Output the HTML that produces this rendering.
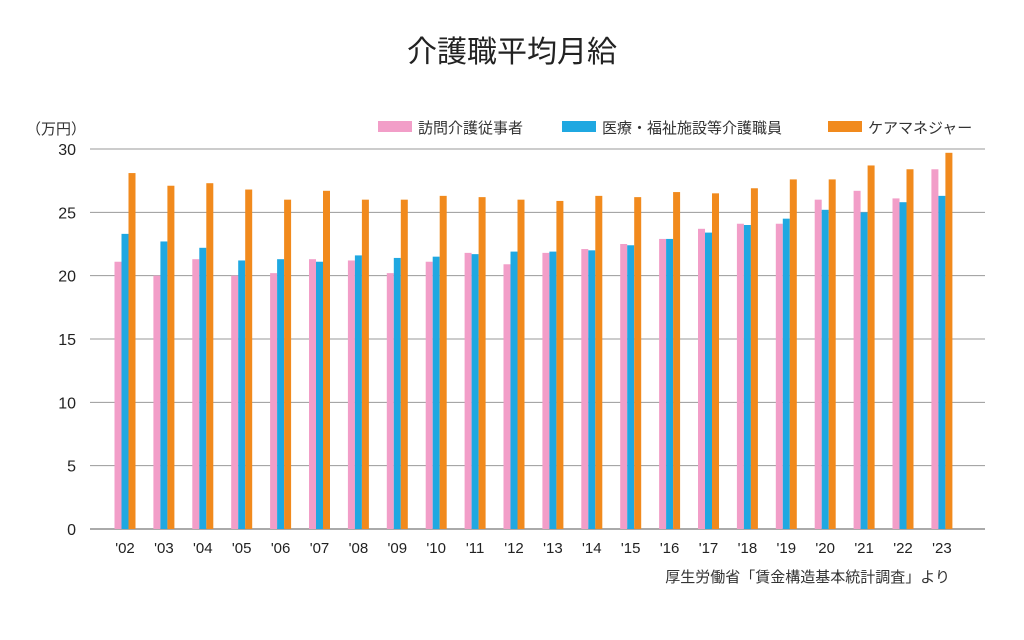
<!DOCTYPE html>
<html><head><meta charset="utf-8"><style>
body{margin:0;background:#fff;}
svg{display:block;font-family:"Liberation Sans","Noto Sans CJK JP",sans-serif;}
</style></head><body>
<svg id="chart" width="1024" height="640">
<text x="512" y="62" text-anchor="middle" font-size="30" fill="#222">介護職平均月給</text>
<text x="26" y="134" font-size="15" fill="#333">（万円）</text>
<g>
<rect x="378" y="121" width="34" height="11" fill="#f29ec8"/>
<text x="418" y="133" font-size="15" fill="#333">訪問介護従事者</text>
<rect x="562" y="121" width="34" height="11" fill="#1fa8e1"/>
<text x="602" y="133" font-size="15" fill="#333">医療・福祉施設等介護職員</text>
<rect x="828" y="121" width="34" height="11" fill="#f18a1d"/>
<text x="868" y="133" font-size="15" fill="#333">ケアマネジャー</text>
</g>
<g id="grid"></g><g id="bars"></g><g id="labels"></g>
<text x="950" y="582" text-anchor="end" font-size="15" fill="#333">厚生労働省「賃金構造基本統計調査」より</text>
</svg>
<script>
const categories=["'02","'03","'04","'05","'06","'07","'08","'09","'10","'11","'12","'13","'14","'15","'16","'17","'18","'19","'20","'21","'22","'23"];
const homeCare=[21.1,20.0,21.3,20.0,20.2,21.3,21.2,20.2,21.1,21.8,20.9,21.8,22.1,22.5,22.9,23.7,24.1,24.1,26.0,26.7,26.1,28.4];
const facility=[23.3,22.7,22.2,21.2,21.3,21.1,21.6,21.4,21.5,21.7,21.9,21.9,22.0,22.4,22.9,23.4,24.0,24.5,25.2,25.0,25.8,26.3];
const careManager=[28.1,27.1,27.3,26.8,26.0,26.7,26.0,26.0,26.3,26.2,26.0,25.9,26.3,26.2,26.6,26.5,26.9,27.6,27.6,28.7,28.4,29.7];
const yTicks=[0,5,10,15,20,25,30];
const NS="http://www.w3.org/2000/svg";
const y0=529,yTop=149,yMax=30,x0=90,x1=985;
const ys=v=>y0-(y0-yTop)*v/yMax;
const xs=i=>125+i*38.9;
const grid=document.getElementById('grid'),bars=document.getElementById('bars'),labels=document.getElementById('labels');
function mk(tag,attrs,parent){const e=document.createElementNS(NS,tag);for(const k in attrs)e.setAttribute(k,attrs[k]);parent.appendChild(e);return e;}
yTicks.forEach(t=>{
 const l=mk('line',{x1:x0,x2:x1,y1:ys(t),y2:ys(t),stroke:t===0?'#555':'#999','stroke-width':1},grid);
 
 
 const tx=mk('text',{x:76,y:ys(t)+6,'text-anchor':'end','font-size':16,fill:'#222'},labels);
 tx.textContent=t;
 
 
});
const series=[[homeCare,'#f29ec8',-7,'home-care'],[facility,'#1fa8e1',0,'facility'],[careManager,'#f18a1d',7,'care-manager']];
categories.forEach((c,i)=>{
 series.forEach(([d,col,off,nm])=>{
  const r=mk('rect',{x:xs(i)+off-3.5,y:ys(d[i]),width:7,height:y0-ys(d[i]),fill:col},bars);
  
  
 });
 const t=mk('text',{x:xs(i),y:553,'text-anchor':'middle','font-size':15,fill:'#222'},labels);
 t.textContent=c;
 
 
});
</script>
</body></html>
